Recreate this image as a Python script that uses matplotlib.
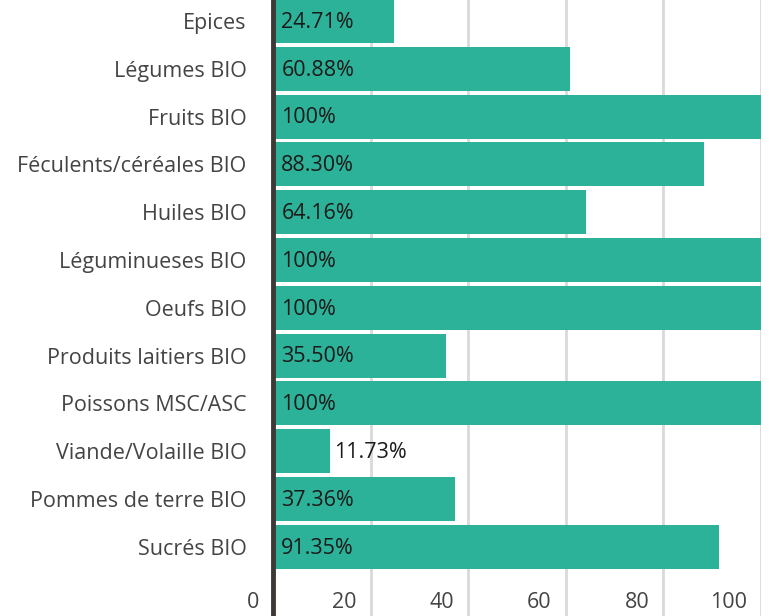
import numpy as np
import matplotlib.pyplot as plt
import matplotlib.transforms as mtransforms

plt.rcParams['font.family'] = ['Open Sans', 'DejaVu Sans']

categories = ['Epices', 'Légumes BIO', 'Fruits BIO', 'Féculents/céréales BIO', 'Huiles BIO',
              'Léguminueses BIO', 'Oeufs BIO', 'Produits laitiers BIO', 'Poissons MSC/ASC',
              'Viande/Volaille BIO', 'Pommes de terre BIO', 'Sucrés BIO']
values = [24.71, 60.88, 100, 88.30, 64.16, 100, 100, 35.50, 100, 11.73, 37.36, 91.35]
xticks = [0, 20, 40, 60, 80, 100]

fig = plt.figure(figsize=(7.69, 6.16), dpi=100)
ax = fig.add_axes([273 / 769, 0, (761 - 273) / 769, 1])

y = np.arange(len(categories))
ax.barh(y, values, height=0.92, color='#2cb298', zorder=2)

fs = 15.5
# valeurs dans la barre (ou juste après si la barre est trop courte)
for i, v in enumerate(values):
    txt = '100%' if v == 100 else '%.2f%%' % v
    if v < 15:
        ax.annotate(txt, (v, i), xytext=(3, -1), textcoords='offset points',
                    va='center', ha='left', fontsize=fs, color='#1a1a1a', zorder=3)
    else:
        ax.annotate(txt, (0, i), xytext=(6, -1), textcoords='offset points',
                    va='center', ha='left', fontsize=fs, color='#1a1a1a', zorder=3)

ax.set_xlim(0, 100)
ax.set_ylim(12.45, -0.44)
ax.set_yticks(y)
ax.set_yticklabels(categories, fontsize=fs, color='#444444')
ax.tick_params(axis='y', length=0, pad=19)

ax.set_xticks(xticks)
ax.set_xticklabels([str(t) for t in xticks], fontsize=fs, color='#444444')
ax.tick_params(axis='x', length=0, pad=-17)
shift = mtransforms.ScaledTranslation(-14 / 100, 0, fig.dpi_scale_trans)
for lab in ax.get_xticklabels():
    lab.set_horizontalalignment('right')
    lab.set_transform(lab.get_transform() + shift)

ax.grid(axis='x', color='#d9d9d9', linewidth=2, zorder=0)
ax.set_axisbelow(True)
for s in ['top', 'right', 'bottom']:
    ax.spines[s].set_visible(False)
ax.spines['left'].set_color('#3d3a36')
ax.spines['left'].set_linewidth(3.5)
ax.spines['left'].set_zorder(4)

plt.savefig('out.png', dpi=100)
